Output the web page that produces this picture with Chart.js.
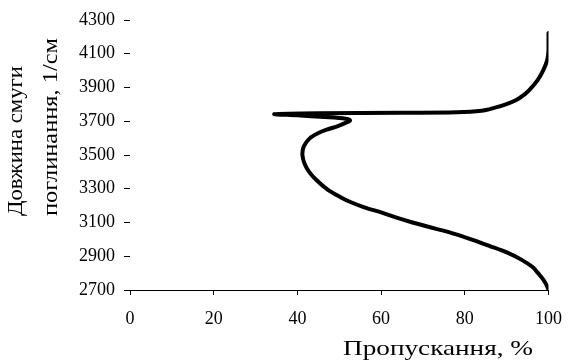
<!DOCTYPE html>
<html>
<head>
<meta charset="utf-8">
<script src="https://cdn.jsdelivr.net/npm/chart.js@4/dist/chart.umd.min.js"></script>
<style>
  html, body { margin: 0; padding: 0; background: #ffffff; }
  #wrap { width: 575px; height: 363px; }
</style>
</head>
<body>
<div id="wrap"><canvas id="c" width="575" height="363"></canvas></div>
<script>
// Wavenumber (1/см) along the curve, and transmittance (%) at each point
const wavenumbers = [
  2700, 2715, 2730, 2760, 2800, 2836, 2880, 2920, 2960, 3000,
  3044, 3073, 3100, 3130, 3160, 3190, 3220, 3250, 3293, 3350,
  3400, 3450, 3500, 3550, 3600, 3630, 3650, 3670, 3690, 3705,
  3715, 3725, 3735, 3742, 3748, 3750, 3753, 3762, 3779, 3800,
  3826, 3850, 3885, 3944, 4000, 4063, 4120, 4223
];
const transmittance = [
  100, 99.8, 99.5, 98.8, 97.5, 96.2, 93.5, 90.3, 86, 81.5,
  76, 71.5, 67.5, 63.5, 60, 56, 52.8, 50.3, 47.3, 44.6,
  42.8, 41.7, 41.2, 41.5, 43, 45, 47, 49.5, 51.5, 52.6,
  51.5, 46.5, 40, 34.5, 45, 65, 78, 84, 87, 89.8,
  92.3, 93.8, 95.4, 97.4, 98.7, 99.7, 100, 100
];
const xTicks = [0, 20, 40, 60, 80, 100];
const yTicks = [2700, 2900, 3100, 3300, 3500, 3700, 3900, 4100, 4300];
const xTitle = 'Пропускання, %';
const yTitleLines = ['Довжина смуги', 'поглинання, 1/см'];

const points = wavenumbers.map((w, i) => ({ x: transmittance[i], y: w }));

function fittedText(ctx, text, x, y, width, rotate, align) {
  ctx.save();
  ctx.translate(x, y);
  if (rotate) ctx.rotate(-Math.PI / 2);
  const m = ctx.measureText(text).width;
  ctx.scale(width / m, 1);
  ctx.textAlign = align;
  ctx.fillText(text, 0, 0);
  ctx.restore();
}

const titlesPlugin = {
  id: 'titles',
  afterDraw(chart) {
    const ctx = chart.ctx;
    ctx.save();
    ctx.fillStyle = '#000000';
    ctx.textBaseline = 'middle';
    ctx.font = '21px "Liberation Serif"';
    fittedText(ctx, xTitle, 438, 349, 190, false, 'center');
    fittedText(ctx, yTitleLines[0], 16, 216, 150, true, 'left');
    fittedText(ctx, yTitleLines[1], 51, 216, 178, true, 'left');
    ctx.restore();
  }
};

new Chart(document.getElementById('c'), {
  type: 'scatter',
  data: {
    datasets: [{
      data: points,
      showLine: true,
      borderColor: '#000000',
      backgroundColor: '#000000',
      borderWidth: 4,
      pointRadius: 0,
      tension: 0.3,
      borderCapStyle: 'round',
      borderJoinStyle: 'round'
    }]
  },
  options: {
    responsive: false,
    animation: false,
    devicePixelRatio: 1,
    layout: { padding: { left: 0, right: 16, top: 20, bottom: 0 } },
    plugins: { legend: { display: false }, tooltip: { enabled: false } },
    scales: {
      x: {
        type: 'linear',
        min: 0, max: 100,
        afterBuildTicks: (s) => { s.ticks = xTicks.map(v => ({ value: v })); },
        afterFit: (s) => { s.height = 73; },
        border: { display: true, color: '#000000', width: 1 },
        grid: { drawOnChartArea: false, drawTicks: true, tickLength: 5, color: '#000000' },
        ticks: {
          color: '#000000',
          padding: 13,
          font: { family: '"Liberation Serif"', size: 18 },
          maxRotation: 0,
          callback: (v) => String(v)
        }
      },
      y: {
        type: 'linear',
        min: 2700, max: 4300,
        afterBuildTicks: (s) => { s.ticks = yTicks.map(v => ({ value: v })); },
        afterFit: (s) => { s.width = 130; },
        border: { display: false },
        grid: { drawOnChartArea: false, drawTicks: true, tickLength: 6, color: '#000000' },
        ticks: {
          color: '#000000',
          padding: 9,
          font: { family: '"Liberation Serif"', size: 18 },
          callback: (v) => String(v)
        }
      }
    }
  },
  plugins: [titlesPlugin]
});
</script>
</body>
</html>
